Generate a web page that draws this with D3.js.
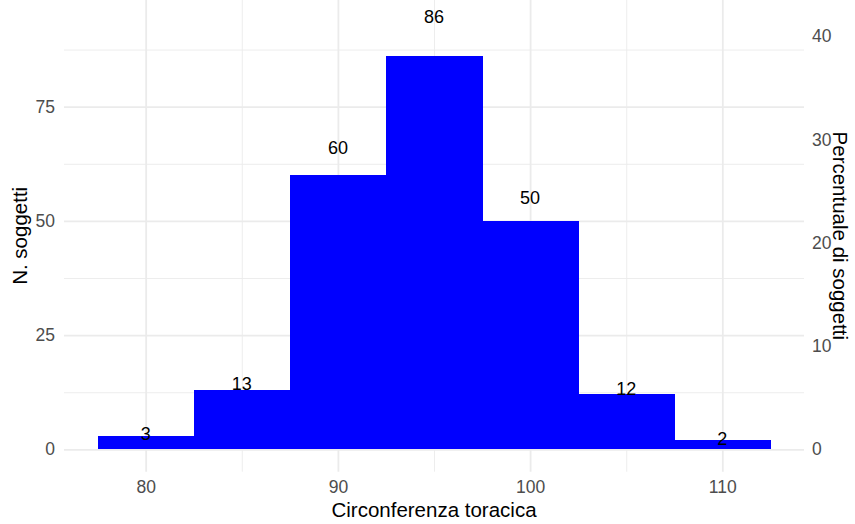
<!DOCTYPE html>
<html><head><meta charset="utf-8">
<script src="https://cdn.jsdelivr.net/npm/d3@7"></script>
<style>
body{margin:0;background:#fff}
text{font-family:"Liberation Sans",Arial,Helvetica,sans-serif}
</style>
</head><body>
<svg id="c" width="855" height="524"></svg>
<script>
// ---- data ----
const binCenters = [80, 85, 90, 95, 100, 105, 110];
const counts     = [3, 13, 60, 86, 50, 12, 2];
const binWidth   = 5;
const xTicks     = [80, 90, 100, 110];
const xMinor     = [85, 95, 105];
const yTicks     = [0, 25, 50, 75];
const yMinor     = [12.5, 37.5, 62.5, 87.5];
const pctTicks   = [0, 10, 20, 30, 40];
const xTitle = "Circonferenza toracica";
const yTitle = "N. soggetti";
const y2Title = "Percentuale di soggetti";

const total = d3.sum(counts);
const svg = d3.select("#c");
const P = {l: 64, r: 804, t: 0, b: 471.7};

const x = d3.scaleLinear().domain([75.75, 114.25]).range([P.l, P.r]);
const y = d3.scaleLinear().domain([-4.9, 98.36]).range([P.b, P.t]);
const yPct = d3.scaleLinear().domain(y.domain().map(v => v / total * 100)).range([P.b, P.t]);

const grid = "#EBEBEB";
// minor grid
svg.append("g").attr("transform", `translate(${P.l},0)`)
  .call(d3.axisLeft(y).tickValues(yMinor).tickSize(-(P.r - P.l)).tickFormat(""))
  .call(g => g.select(".domain").remove())
  .call(g => g.selectAll("line").attr("stroke", grid).attr("stroke-width", 0.9));
svg.append("g").attr("transform", `translate(0,${P.b})`)
  .call(d3.axisBottom(x).tickValues(xMinor).tickSize(-(P.b - P.t)).tickFormat(""))
  .call(g => g.select(".domain").remove())
  .call(g => g.selectAll("line").attr("stroke", grid).attr("stroke-width", 0.9));
// major grid
svg.append("g").attr("transform", `translate(${P.l},0)`)
  .call(d3.axisLeft(y).tickValues(yTicks).tickSize(-(P.r - P.l)).tickFormat(""))
  .call(g => g.select(".domain").remove())
  .call(g => g.selectAll("line").attr("stroke", grid).attr("stroke-width", 1.8));
svg.append("g").attr("transform", `translate(0,${P.b})`)
  .call(d3.axisBottom(x).tickValues(xTicks).tickSize(-(P.b - P.t)).tickFormat(""))
  .call(g => g.select(".domain").remove())
  .call(g => g.selectAll("line").attr("stroke", grid).attr("stroke-width", 1.8));

// bars
svg.append("g").attr("shape-rendering", "crispEdges")
  .selectAll("rect").data(counts).join("rect")
  .attr("x", (d, i) => x(binCenters[i] - binWidth / 2))
  .attr("width", (d, i) => x(binCenters[i] + binWidth / 2) - x(binCenters[i] - binWidth / 2) + 0.5)
  .attr("y", d => y(d))
  .attr("height", d => y(0) - y(d))
  .attr("fill", "#0000FF");

// value labels
svg.append("g").selectAll("text").data(counts).join("text")
  .attr("x", (d, i) => x(binCenters[i]))
  .attr("y", d => y(d * 1.1))
  .attr("text-anchor", "middle")
  .attr("dominant-baseline", "central")
  .attr("font-size", 18)
  .attr("fill", "#000")
  .text(d => d);

const tickCol = "#4D4D4D";
// axes tick labels
svg.append("g").attr("transform", `translate(0,${P.b})`)
  .call(d3.axisBottom(x).tickValues(xTicks).tickSize(0).tickPadding(9))
  .call(g => g.select(".domain").remove())
  .call(g => g.selectAll("text").attr("fill", tickCol).attr("font-size", 17.5).attr("font-family", null));
svg.append("g").attr("transform", `translate(${P.l},0)`)
  .call(d3.axisLeft(y).tickValues(yTicks).tickSize(0).tickPadding(9))
  .call(g => g.select(".domain").remove())
  .call(g => g.selectAll("text").attr("fill", tickCol).attr("font-size", 17.5).attr("font-family", null));
svg.append("g").attr("transform", `translate(${P.r},0)`)
  .call(d3.axisRight(yPct).tickValues(pctTicks).tickSize(0).tickPadding(8))
  .call(g => g.select(".domain").remove())
  .call(g => g.selectAll("text").attr("fill", tickCol).attr("font-size", 17.5).attr("font-family", null));

// titles
svg.append("text").attr("x", (P.l + P.r) / 2).attr("y", 517)
  .attr("text-anchor", "middle").attr("font-size", 20.5).attr("fill", "#000").text(xTitle);
svg.append("text").attr("transform", `translate(26.5,${(P.t + P.b) / 2}) rotate(-90)`)
  .attr("text-anchor", "middle").attr("font-size", 20.5).attr("fill", "#000").text(yTitle);
svg.append("text").attr("transform", `translate(833,${(P.t + P.b) / 2}) rotate(90)`)
  .attr("text-anchor", "middle").attr("font-size", 20.5).attr("fill", "#000").text(y2Title);
</script>
</body></html>
